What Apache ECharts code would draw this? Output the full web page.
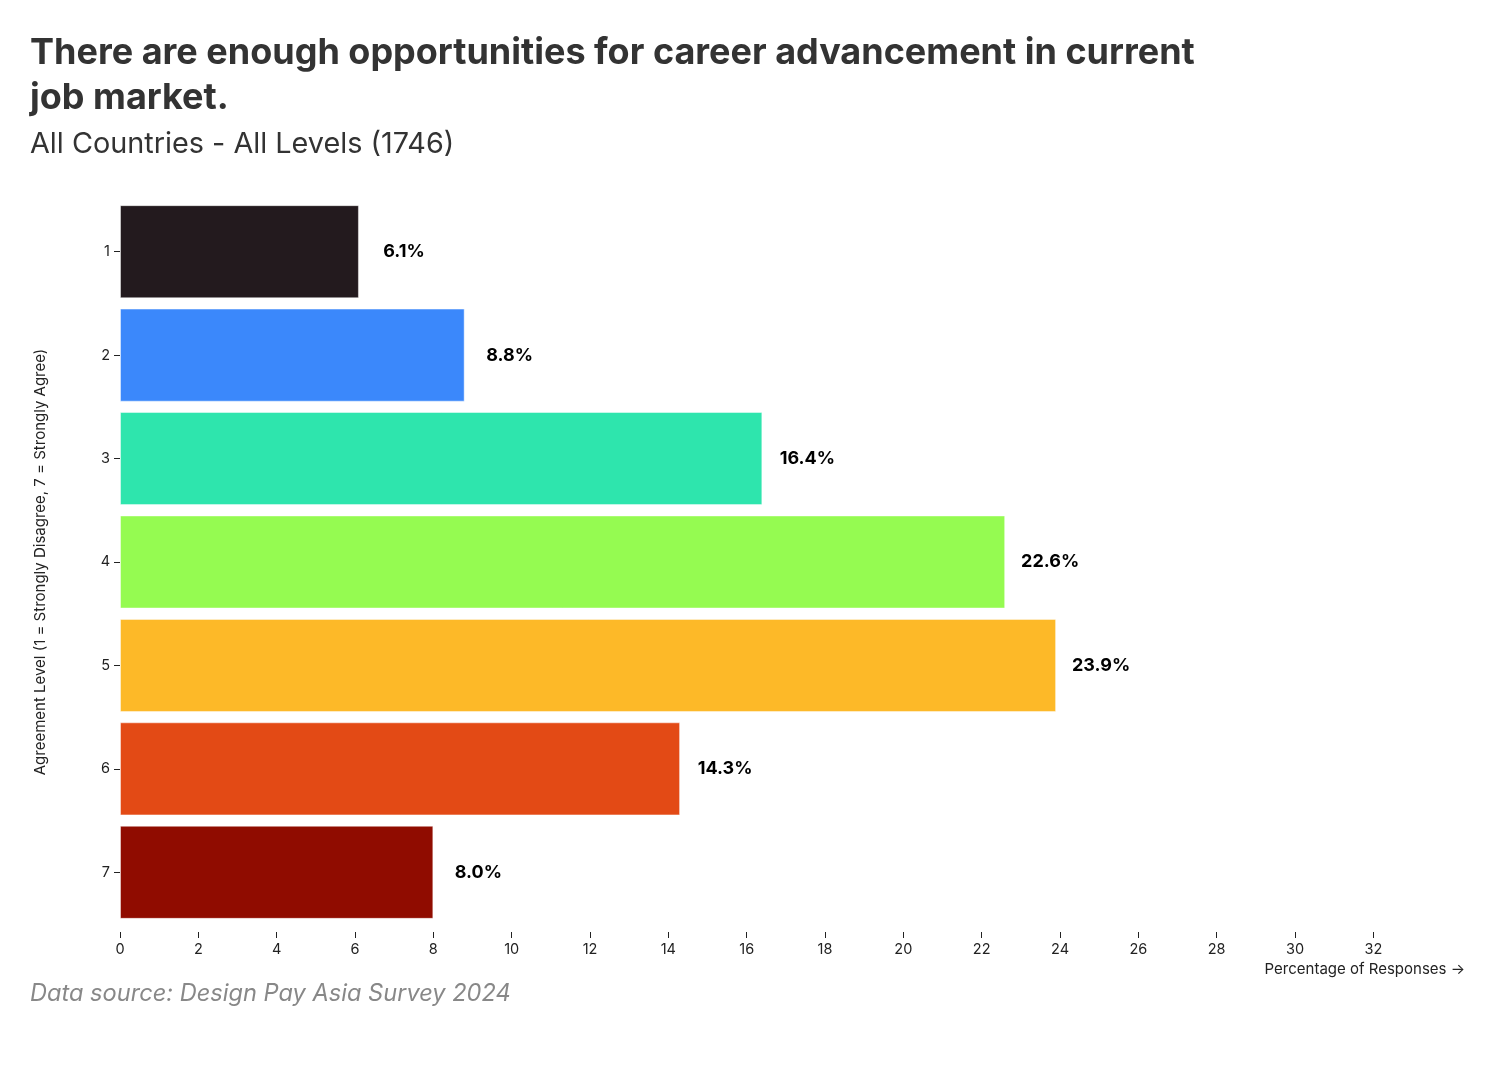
<!DOCTYPE html>
<html>
<head>
<meta charset="utf-8">
<script src="https://cdn.jsdelivr.net/npm/echarts@6/dist/echarts.min.js"></script>
<style>
html,body{margin:0;padding:0;background:#fff;}
#chart{width:1500px;height:1066px;}
</style>
</head>
<body>
<div id="chart"></div>
<script>
const categories = ['1','2','3','4','5','6','7'];
const values = [6.1, 8.8, 16.4, 22.6, 23.9, 14.3, 8.0];
const colors = ['#231a1e','#3b88fb','#2ee5ad','#95fb51','#fdb928','#e34a15','#900c00'];
const xTicks = [0,2,4,6,8,10,12,14,16,18,20,22,24,26,28,30,32];

const FONT = 'Inter, "Noto Sans", sans-serif';
const chart = echarts.init(document.getElementById('chart'), null, {renderer:'canvas'});
chart.setOption({
  backgroundColor:'#fff',
  animation:false,
  title:[
    {text:'There are enough opportunities for career advancement in current\njob market.',
     left:25, top:26,
     textStyle:{fontFamily:FONT, fontSize:36, fontWeight:'bold', color:'#333', lineHeight:45}},
    {text:'All Countries - All Levels (1746)', left:25, top:125,
     textStyle:{fontFamily:FONT, fontSize:28.8, fontWeight:'normal', color:'#333'}},
    {text:'Data source: Design Pay Asia Survey 2024', left:25, top:977,
     textStyle:{fontFamily:FONT, fontSize:23.6, fontWeight:'normal', fontStyle:'italic', color:'#888'}}
  ],
  grid:{left:120, right:35, top:200, bottom:142, containLabel:false},
  xAxis:{
    type:'value', min:0, max:34.34, offset:8,
    axisLine:{show:false},
    splitLine:{show:false},
    axisTick:{show:true, length:6, inside:false, customValues:xTicks, lineStyle:{color:'#222'}},
    axisLabel:{customValues:xTicks, fontFamily:FONT, fontSize:14.5, color:'#222', margin:10},
    name:'Percentage of Responses →', nameLocation:'end', nameGap:0,
    nameTextStyle:{fontFamily:FONT, fontSize:15, color:'#222', align:'right', verticalAlign:'top', padding:[30,0,0,0]}
  },
  yAxis:{
    type:'category', data:categories, inverse:true,
    axisLine:{show:false},
    axisTick:{show:true, length:6, alignWithLabel:true, lineStyle:{color:'#222'}},
    axisLabel:{fontFamily:FONT, fontSize:14.5, color:'#222', margin:10},
    name:'Agreement Level (1 = Strongly Disagree, 7 = Strongly Agree)',
    nameLocation:'middle', nameGap:72,
    nameTextStyle:{fontFamily:FONT, fontSize:15, color:'#222'}
  },
  series:[{
    type:'bar',
    data:values.map((v,i)=>({value:v, itemStyle:{color:colors[i]}})),
    barCategoryGap:'10%',
    itemStyle:{borderColor:'rgba(255,255,255,0.45)', borderWidth:1},
    label:{show:true, position:'right', distance:45, align:'center', formatter:p=>p.value.toFixed(1)+'%',
      fontFamily:FONT, fontSize:18, fontWeight:'bold', color:'#000'}
  }]
});
</script>
</body>
</html>
